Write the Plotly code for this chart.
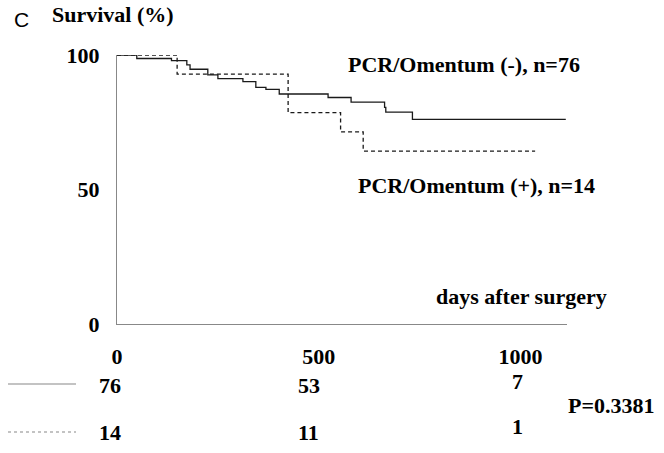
import plotly.graph_objects as go

# Kaplan-Meier curves (days, survival %)
neg_days = [0, 49, 135, 173, 181, 225, 250, 312, 344, 369, 402, 523, 580, 663, 666, 732, 1112]
neg_surv = [100, 98.7, 97.9, 96.3, 94.7, 92.6, 91.2, 90.1, 88.0, 87.2, 85.5, 84.2, 82.5, 80.5, 78.8, 76.1, 76.1]
pos_days = [0, 149, 424, 554, 610, 1036]
pos_surv = [100, 92.9, 78.6, 71.4, 64.3, 64.3]

neg_label = "PCR/Omentum (-), n=76"
pos_label = "PCR/Omentum (+), n=14"

# numbers at risk
risk_times = [0, 500, 1000]
risk_neg = ["76", "53", "7"]
risk_pos = ["14", "11", "1"]
p_text = "P=0.3381"

x_ticks = [0, 500, 1000]
y_ticks = [0, 50, 100]

W, H = 664, 453
L, R, T, B = 117, 97, 55, 129
PH = H - T - B

def py(p):
    return (H - B - p) / PH

def px(p):
    return (p - L) / (W - L - R)

SERIF = "Liberation Serif"
bold = dict(family=SERIF, size=22, color="black", weight="bold")

fig = go.Figure()
fig.add_trace(go.Scatter(x=neg_days, y=neg_surv, mode="lines", line_shape="hv",
                         line=dict(color="#1a1a1a", width=1.3), showlegend=False))
fig.add_trace(go.Scatter(x=pos_days, y=pos_surv, mode="lines", line_shape="hv",
                         line=dict(color="#1a1a1a", width=1.3, dash="4px,3px"), showlegend=False))

ann = []
ann.append(dict(text="C", x=px(12), y=py(20), xref="paper", yref="paper", xanchor="left",
                yanchor="middle", showarrow=False,
                font=dict(family="Liberation Sans", size=21, color="black")))
ann.append(dict(text="Survival (%)", x=px(50), y=py(15), xref="paper", yref="paper",
                xanchor="left", yanchor="middle", showarrow=False, font=bold))
ann.append(dict(text=neg_label, x=px(346), y=py(64), xref="paper", yref="paper",
                xanchor="left", yanchor="middle", showarrow=False, font=bold))
ann.append(dict(text=pos_label, x=px(356), y=py(185), xref="paper", yref="paper",
                xanchor="left", yanchor="middle", showarrow=False, font=bold))
ann.append(dict(text="days after surgery", x=px(434), y=py(296), xref="paper", yref="paper",
                xanchor="left", yanchor="middle", showarrow=False, font=bold))
shifts = [-7, -10, -3]
neg_y = [385, 385, 381]
pos_y = [432, 432, 426]
for t, a, b, s, ya, yb in zip(risk_times, risk_neg, risk_pos, shifts, neg_y, pos_y):
    ann.append(dict(text=a, x=t, xshift=s, y=py(ya), xref="x", yref="paper",
                    xanchor="center", yanchor="middle", showarrow=False, font=bold))
    ann.append(dict(text=b, x=t, xshift=s, y=py(yb), xref="x", yref="paper",
                    xanchor="center", yanchor="middle", showarrow=False, font=bold))
ann.append(dict(text=p_text, x=px(611), y=py(405), xref="paper", yref="paper",
                xanchor="center", yanchor="middle", showarrow=False, font=bold))

shapes = [
    dict(type="line", xref="paper", yref="paper", x0=px(8), x1=px(76), y0=py(384), y1=py(384),
         line=dict(color="#888", width=1.2)),
    dict(type="line", xref="paper", yref="paper", x0=px(8), x1=px(76), y0=py(432), y1=py(432),
         line=dict(color="#888", width=1.2, dash="dot")),
]

fig.update_layout(
    width=W, height=H, margin=dict(l=L, r=R, t=T, b=B, autoexpand=False),
    paper_bgcolor="white", plot_bgcolor="white",
    annotations=ann, shapes=shapes,
    xaxis=dict(range=[0, 1115], tickvals=x_ticks, ticktext=[str(v) for v in x_ticks],
               showgrid=False, zeroline=False, showline=True, linecolor="#888", linewidth=1.3,
               ticks="", ticklabelstandoff=12, tickfont=bold, fixedrange=True),
    yaxis=dict(range=[0, 100], tickvals=y_ticks, ticktext=[str(v) for v in y_ticks],
               showgrid=False, zeroline=False, showline=True, linecolor="#888", linewidth=1.3,
               ticks="", ticklabelstandoff=12, tickfont=bold, fixedrange=True),
)
fig.write_html("out.html", post_script="document.body.style.margin='0';",
               config={"displayModeBar": False})
